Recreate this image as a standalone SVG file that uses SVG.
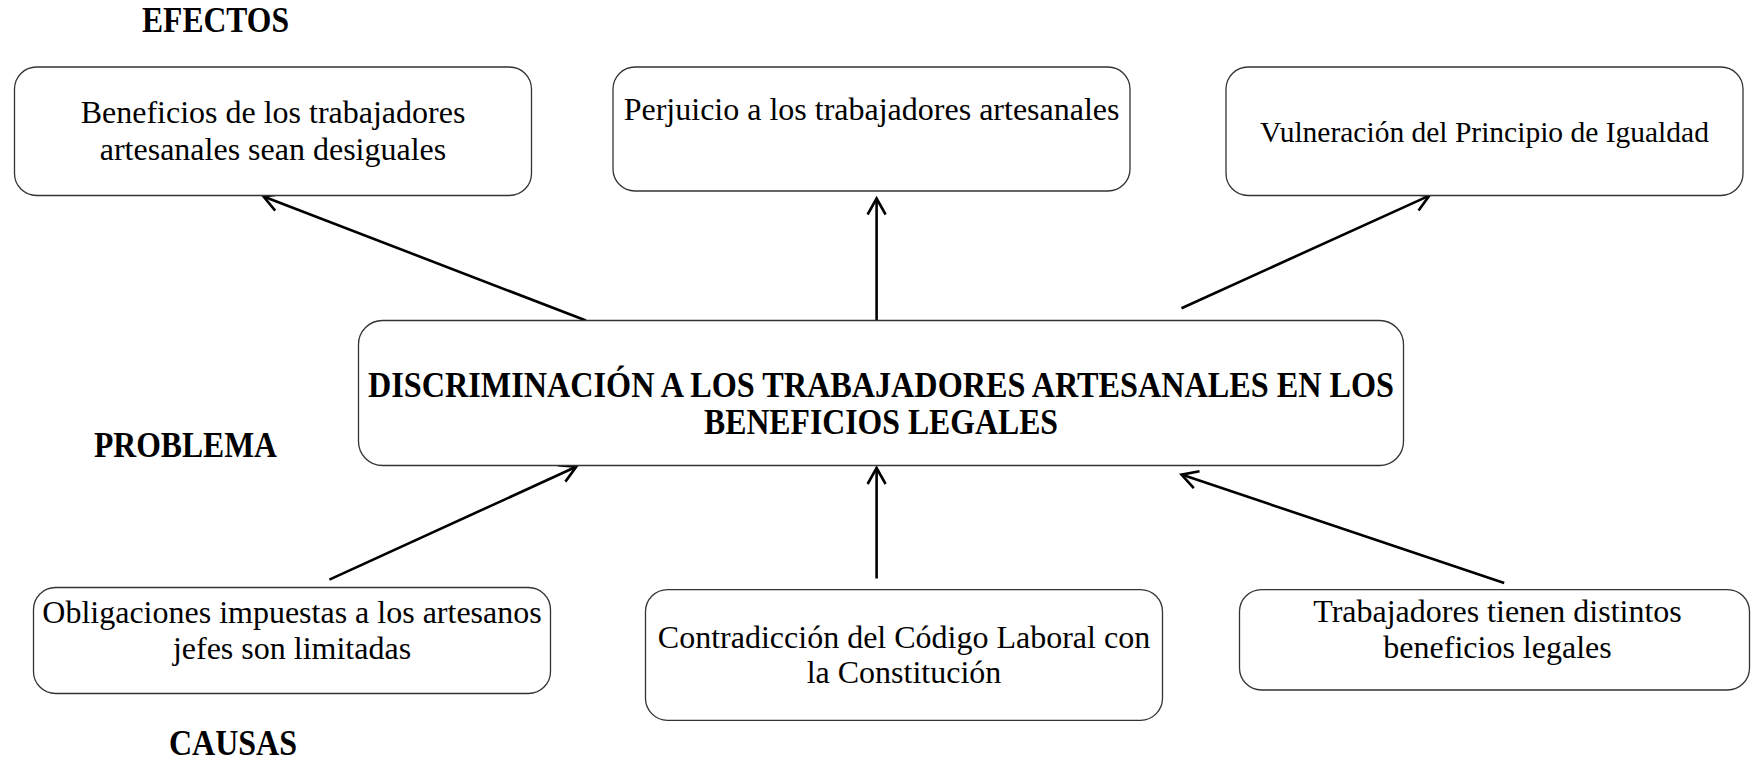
<svg xmlns="http://www.w3.org/2000/svg" width="1751" height="760" viewBox="0 0 1751 760">
<style>
.box{fill:#fff;stroke:#333;stroke-width:1.3}
.t{font-family:"Liberation Serif","Times New Roman",serif;font-size:32px;fill:#000;text-anchor:middle}
.b{font-family:"Liberation Serif","Times New Roman",serif;font-size:35px;font-weight:bold;fill:#000;text-anchor:middle}
.c{stroke:#000;stroke-width:2.6;fill:none;marker-end:url(#arr)}
</style>
<defs>
<marker id="arr" markerUnits="userSpaceOnUse" markerWidth="30" markerHeight="30" refX="18" refY="11" orient="auto" viewBox="0 0 30 22">
<path d="M2,2 L18,11 L2,20" fill="none" stroke="#000" stroke-width="2.6"/>
</marker>
</defs>
<rect width="1751" height="760" fill="#fff"/>
<g id="labels">
<text class="b" x="215.5" y="32" textLength="147" lengthAdjust="spacingAndGlyphs">EFECTOS</text>
<text class="b" x="185.5" y="457" textLength="183" lengthAdjust="spacingAndGlyphs">PROBLEMA</text>
<text class="b" x="233" y="755" textLength="128" lengthAdjust="spacingAndGlyphs">CAUSAS</text>
</g>
<g id="connectors">
<line class="c" x1="586" y1="320.5" x2="263.5" y2="196.5"/>
<line class="c" x1="876.6" y1="320.5" x2="876.6" y2="198.5"/>
<line class="c" x1="1181.5" y1="308.2" x2="1429.4" y2="195.6"/>
<line class="c" x1="329.4" y1="579.6" x2="576.2" y2="466.8"/>
<line class="c" x1="876.6" y1="578.5" x2="876.6" y2="468"/>
<line class="c" x1="1504.2" y1="582.9" x2="1181.5" y2="474.6"/>
</g>
<g id="efecto1">
<rect class="box" x="14.5" y="67" width="517" height="128.5" rx="22"/>
<text class="t" x="273" y="123">Beneficios de los trabajadores</text>
<text class="t" x="273" y="160">artesanales sean desiguales</text>
</g>
<g id="efecto2">
<rect class="box" x="613" y="67" width="517" height="124" rx="22"/>
<text class="t" x="871.6" y="119.5">Perjuicio a los trabajadores artesanales</text>
</g>
<g id="efecto3">
<rect class="box" x="1226" y="67" width="517" height="128.5" rx="22"/>
<text class="t" x="1484.5" y="142" style="font-size:29.5px">Vulneración del Principio de Igualdad</text>
</g>
<g id="problema">
<rect class="box" x="358.5" y="320.5" width="1045" height="145" rx="24"/>
<text class="b" x="881" y="396.5" textLength="1026" lengthAdjust="spacingAndGlyphs">DISCRIMINACIÓN A LOS TRABAJADORES ARTESANALES EN LOS</text>
<text class="b" x="881" y="433.5" textLength="354" lengthAdjust="spacingAndGlyphs">BENEFICIOS LEGALES</text>
</g>
<g id="causa1">
<rect class="box" x="33.5" y="587.5" width="517" height="106" rx="22"/>
<text class="t" x="292" y="623">Obligaciones impuestas a los artesanos</text>
<text class="t" x="292" y="659">jefes son limitadas</text>
</g>
<g id="causa2">
<rect class="box" x="645.5" y="589.6" width="517" height="130.7" rx="22"/>
<text class="t" x="904" y="647.7">Contradicción del Código Laboral con</text>
<text class="t" x="904" y="683.4">la Constitución</text>
</g>
<g id="causa3">
<rect class="box" x="1239.5" y="589.6" width="510" height="100.4" rx="22"/>
<text class="t" x="1497.5" y="622">Trabajadores tienen distintos</text>
<text class="t" x="1497.5" y="657.7">beneficios legales</text>
</g>
</svg>
